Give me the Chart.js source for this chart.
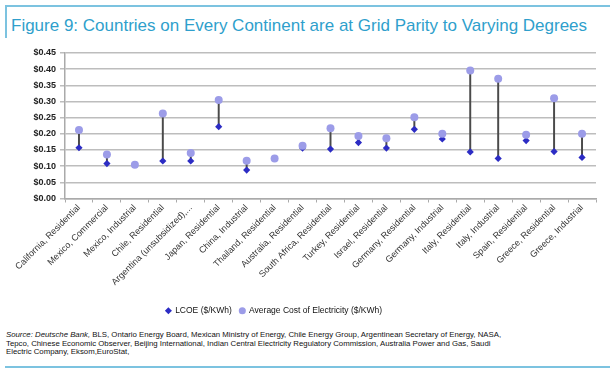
<!DOCTYPE html>
<html>
<head>
<meta charset="utf-8">
<script src="https://cdn.jsdelivr.net/npm/chart.js@4"></script>
<style>
  html, body { margin: 0; padding: 0; background: #fff; }
  body { width: 610px; height: 379px; position: relative; overflow: hidden; font-family: "Liberation Sans", Arial, sans-serif; }
  #titre { position: absolute; left: 5px; top: 5px; width: 605px; height: 31px; border-top: 2px solid #7cc3e0; border-left: 2px solid #7cc3e0; }
  #titre span { position: absolute; left: 4px; top: 9px; font-size: 17px; color: #2f9fcc; white-space: nowrap; }
  #grafico { position: absolute; left: 0; top: 40px; width: 610px; height: 287px; }
  #fonte { position: absolute; left: 6px; top: 331px; font-size: 7.8px; line-height: 8.6px; color: #111; width: 604px; }
  #linhaBaixo { position: absolute; left: 5px; top: 366px; width: 605px; border-top: 2px solid #7cc3e0; }
</style>
</head>
<body>
<div id="titre"><span>Figure 9: Countries on Every Continent are at Grid Parity to Varying Degrees</span></div>
<div id="grafico"><canvas id="graficoPontos"></canvas></div>
<div id="fonte"><i>Source: Deutsche Bank,</i> BLS, Ontario Energy Board, Mexican Ministry of Energy, Chile Energy Group, Argentinean Secretary of Energy, NASA,<br>Tepco, Chinese Economic Observer, Beijing International, Indian Central Electricity Regulatory Commission, Australia Power and Gas, Saudi<br>Electric Company, Eksom,EuroStat,</div>
<div id="linhaBaixo"></div>
<script>
// Categorias (eixo X)
var categorias = [
    'California, Residential', 'Mexico, Commercial', 'Mexico, Industrial', 'Chile, Residential',
    'Argentina (unsubsidized),...', 'Japan, Residential', 'China, Industrial', 'Thailand, Residential',
    'Australia, Residential', 'South Africa, Residential', 'Turkey, Residential', 'Israel, Residential',
    'Germany, Residential', 'Germany, Industrial', 'Italy, Residential', 'Italy, Industrial',
    'Spain, Residential', 'Greece, Residential', 'Greece, Industrial'
];

// LCOE ($/KWh) - losangos azuis
var lcoe = [0.157, 0.108, null, 0.116, 0.116, 0.222, 0.088, null, 0.156, 0.153,
            0.173, 0.156, 0.214, 0.184, 0.144, 0.124, 0.179, 0.145, 0.127];

// Custo medio da eletricidade ($/KWh) - circulos lilas
var custoMedio = [0.212, 0.136, 0.104, 0.263, 0.141, 0.305, 0.117, 0.124, 0.163, 0.217,
                  0.193, 0.186, 0.251, 0.200, 0.396, 0.370, 0.197, 0.310, 0.200];

// Ticks do eixo Y
var ticksY = [0, 0.05, 0.10, 0.15, 0.20, 0.25, 0.30, 0.35, 0.40, 0.45];

// Linhas verticais ligando os dois pontos (barras flutuantes finas)
var faixas = categorias.map(function (c, i) {
    if (lcoe[i] == null) return null;
    return [lcoe[i], custoMedio[i]];
});

// Plugin para posicionar a legenda um pouco a esquerda, como no original
var moverLegenda = {
    id: 'moverLegenda',
    afterLayout: function (chart) {
        var lg = chart.legend;
        lg.left = 0;
        lg.right = 548;
    }
};

var ctx = document.getElementById('graficoPontos').getContext('2d');
var meuGrafico = new Chart(ctx, {
    type: 'bar',
    data: {
        labels: categorias,
        datasets: [
            {
                label: 'faixa',
                data: faixas,
                backgroundColor: '#4a4a4a',
                barThickness: 1.3,
                order: 3
            },
            {
                type: 'line',
                label: 'LCOE ($/KWh)',
                data: lcoe,
                showLine: false,
                pointStyle: 'rectRot',
                pointRadius: 3.6,
                backgroundColor: '#2c2cc4',
                borderColor: '#2c2cc4',
                borderWidth: 0,
                order: 2
            },
            {
                type: 'line',
                label: 'Average Cost of Electricity ($/KWh)',
                data: custoMedio,
                showLine: false,
                pointStyle: 'circle',
                pointRadius: 4,
                backgroundColor: '#9c9ce8',
                borderColor: '#9c9ce8',
                borderWidth: 0,
                order: 1
            }
        ]
    },
    options: {
        responsive: true,
        maintainAspectRatio: false,
        animation: false,
        layout: { padding: { left: 0, right: 14, top: 13, bottom: 2 } },
        plugins: {
            tooltip: { enabled: false },
            legend: {
                position: 'bottom',
                labels: {
                    usePointStyle: true,
                    boxWidth: 5,
                    boxHeight: 5,
                    padding: 8,
                    color: '#111',
                    font: { family: 'Liberation Sans', size: 8.5 },
                    filter: function (item) { return item.datasetIndex !== 0; },
                    sort: function (a, b) { return a.datasetIndex - b.datasetIndex; }
                }
            }
        },
        scales: {
            x: {
                offset: true,
                grid: { offset: true, drawOnChartArea: false, tickLength: 4, color: '#aaa' },
                border: { color: '#aaa', width: 1.5 },
                ticks: {
                    minRotation: 45,
                    maxRotation: 45,
                    autoSkip: false,
                    padding: 0,
                    color: '#333',
                    font: { family: 'Liberation Sans', size: 9 }
                },
                afterFit: function (escala) { escala.height = 100; }
            },
            y: {
                min: 0,
                max: 0.45,
                afterBuildTicks: function (escala) {
                    escala.ticks = ticksY.map(function (v) { return { value: v }; });
                },
                grid: { color: '#bdbdbd', lineWidth: 1.5, tickLength: 5 },
                border: { color: '#aaa', width: 1.5 },
                ticks: {
                    padding: 4,
                    color: '#222',
                    font: { family: 'Liberation Sans', size: 9, weight: 'bold' },
                    callback: function (v) { return '$' + Number(v).toFixed(2); }
                },
                afterFit: function (escala) { escala.width = 65; }
            }
        }
    },
    plugins: [moverLegenda]
});
</script>
</body>
</html>
